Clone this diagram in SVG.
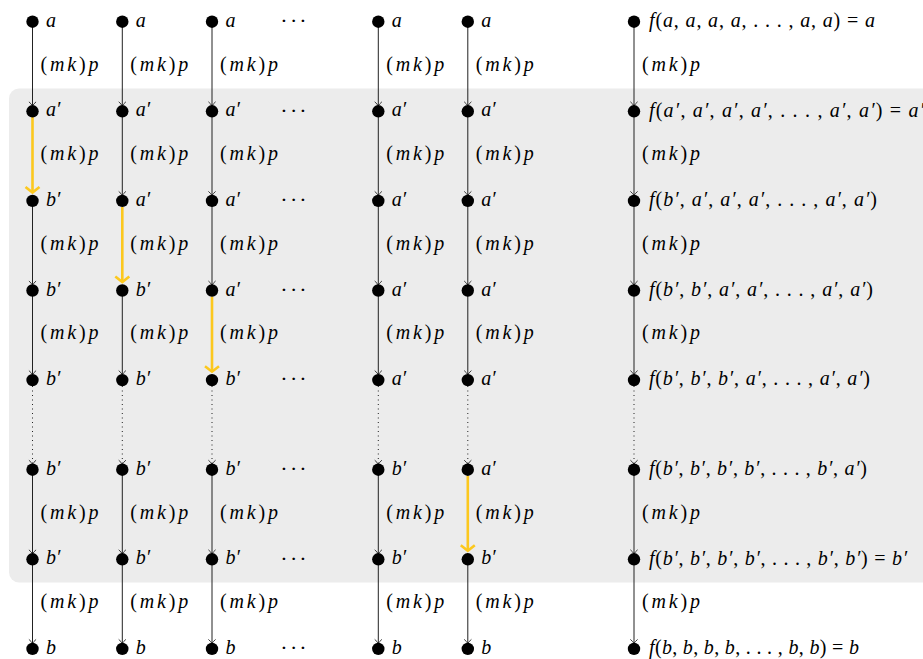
<svg xmlns="http://www.w3.org/2000/svg" width="923" height="659" viewBox="0 0 923 659" font-family="Liberation Serif, DejaVu Serif, serif">
<style>
text{font-family:"Liberation Serif",serif}
.t{font-size:20px;fill:#000}
.i{font-style:italic}
.n{fill:#000}
.ln{stroke:#222;stroke-width:1;fill:none}
.dt{stroke:#222;stroke-width:1;stroke-dasharray:1 3.5;fill:none}
.y{stroke:#fcc81e;stroke-width:2.6;fill:none}
.dots{font-size:22px;text-anchor:middle}
</style>
<defs>
<marker id="ah" markerUnits="userSpaceOnUse" viewBox="-6 -6 12 12" markerWidth="12" markerHeight="12" refX="0" refY="0" orient="auto"><path d="M-4,-3.6 Q-1.5,-0.8 0,0 Q-1.5,0.8 -4,3.6" fill="none" stroke="#222" stroke-width="0.9"/></marker>
<marker id="ahy" markerUnits="userSpaceOnUse" viewBox="-10 -10 20 20" markerWidth="20" markerHeight="20" refX="0" refY="0" orient="auto"><path d="M-5.5,-7 L0,0 L-5.5,7" fill="none" stroke="#fcc81e" stroke-width="2.6"/></marker>
</defs>
<rect x="9" y="88.5" width="940" height="494" rx="10" fill="#ececec"/>
<g id="connectors">
<line class="ln" x1="32.5" y1="21.7" x2="32.5" y2="105.8" marker-end="url(#ah)"/>
<line class="y" x1="32.5" y1="117" x2="32.5" y2="192.5" marker-end="url(#ahy)"/>
<line class="ln" x1="32.5" y1="200.9" x2="32.5" y2="285" marker-end="url(#ah)"/>
<line class="ln" x1="32.5" y1="290.5" x2="32.5" y2="374.6" marker-end="url(#ah)"/>
<line class="dt" x1="32.5" y1="386" x2="32.5" y2="464.2" marker-end="url(#ah)"/>
<line class="ln" x1="32.5" y1="469.7" x2="32.5" y2="553.8" marker-end="url(#ah)"/>
<line class="ln" x1="32.5" y1="559.3" x2="32.5" y2="643.4" marker-end="url(#ah)"/>
<line class="ln" x1="122.3" y1="21.7" x2="122.3" y2="105.8" marker-end="url(#ah)"/>
<line class="ln" x1="122.3" y1="111.3" x2="122.3" y2="195.4" marker-end="url(#ah)"/>
<line class="y" x1="122.3" y1="207" x2="122.3" y2="282.1" marker-end="url(#ahy)"/>
<line class="ln" x1="122.3" y1="290.5" x2="122.3" y2="374.6" marker-end="url(#ah)"/>
<line class="dt" x1="122.3" y1="386" x2="122.3" y2="464.2" marker-end="url(#ah)"/>
<line class="ln" x1="122.3" y1="469.7" x2="122.3" y2="553.8" marker-end="url(#ah)"/>
<line class="ln" x1="122.3" y1="559.3" x2="122.3" y2="643.4" marker-end="url(#ah)"/>
<line class="ln" x1="212" y1="21.7" x2="212" y2="105.8" marker-end="url(#ah)"/>
<line class="ln" x1="212" y1="111.3" x2="212" y2="195.4" marker-end="url(#ah)"/>
<line class="ln" x1="212" y1="200.9" x2="212" y2="285" marker-end="url(#ah)"/>
<line class="y" x1="212" y1="296.5" x2="212" y2="371.7" marker-end="url(#ahy)"/>
<line class="dt" x1="212" y1="386" x2="212" y2="464.2" marker-end="url(#ah)"/>
<line class="ln" x1="212" y1="469.7" x2="212" y2="553.8" marker-end="url(#ah)"/>
<line class="ln" x1="212" y1="559.3" x2="212" y2="643.4" marker-end="url(#ah)"/>
<line class="ln" x1="378.3" y1="21.7" x2="378.3" y2="105.8" marker-end="url(#ah)"/>
<line class="ln" x1="378.3" y1="111.3" x2="378.3" y2="195.4" marker-end="url(#ah)"/>
<line class="ln" x1="378.3" y1="200.9" x2="378.3" y2="285" marker-end="url(#ah)"/>
<line class="ln" x1="378.3" y1="290.5" x2="378.3" y2="374.6" marker-end="url(#ah)"/>
<line class="dt" x1="378.3" y1="386" x2="378.3" y2="464.2" marker-end="url(#ah)"/>
<line class="ln" x1="378.3" y1="469.7" x2="378.3" y2="553.8" marker-end="url(#ah)"/>
<line class="ln" x1="378.3" y1="559.3" x2="378.3" y2="643.4" marker-end="url(#ah)"/>
<line class="ln" x1="467.8" y1="21.7" x2="467.8" y2="105.8" marker-end="url(#ah)"/>
<line class="ln" x1="467.8" y1="111.3" x2="467.8" y2="195.4" marker-end="url(#ah)"/>
<line class="ln" x1="467.8" y1="200.9" x2="467.8" y2="285" marker-end="url(#ah)"/>
<line class="ln" x1="467.8" y1="290.5" x2="467.8" y2="374.6" marker-end="url(#ah)"/>
<line class="dt" x1="467.8" y1="386" x2="467.8" y2="464.2" marker-end="url(#ah)"/>
<line class="y" x1="467.8" y1="475.7" x2="467.8" y2="550.8" marker-end="url(#ahy)"/>
<line class="ln" x1="467.8" y1="559.3" x2="467.8" y2="643.4" marker-end="url(#ah)"/>
<line class="ln" x1="634" y1="21.7" x2="634" y2="105.8" marker-end="url(#ah)"/>
<line class="ln" x1="634" y1="111.3" x2="634" y2="195.4" marker-end="url(#ah)"/>
<line class="ln" x1="634" y1="200.9" x2="634" y2="285" marker-end="url(#ah)"/>
<line class="ln" x1="634" y1="290.5" x2="634" y2="374.6" marker-end="url(#ah)"/>
<line class="dt" x1="634" y1="386" x2="634" y2="464.2" marker-end="url(#ah)"/>
<line class="ln" x1="634" y1="469.7" x2="634" y2="553.8" marker-end="url(#ah)"/>
<line class="ln" x1="634" y1="559.3" x2="634" y2="643.4" marker-end="url(#ah)"/>
</g>
<g id="edge-labels" class="t">
<text x="40.5" y="70.5" textLength="58" lengthAdjust="spacing">(<tspan class="i">mk</tspan>)<tspan class="i">p</tspan></text>
<text x="40.5" y="160.1" textLength="58" lengthAdjust="spacing">(<tspan class="i">mk</tspan>)<tspan class="i">p</tspan></text>
<text x="40.5" y="249.7" textLength="58" lengthAdjust="spacing">(<tspan class="i">mk</tspan>)<tspan class="i">p</tspan></text>
<text x="40.5" y="339.3" textLength="58" lengthAdjust="spacing">(<tspan class="i">mk</tspan>)<tspan class="i">p</tspan></text>
<text x="40.5" y="518.5" textLength="58" lengthAdjust="spacing">(<tspan class="i">mk</tspan>)<tspan class="i">p</tspan></text>
<text x="40.5" y="608.1" textLength="58" lengthAdjust="spacing">(<tspan class="i">mk</tspan>)<tspan class="i">p</tspan></text>
<text x="130.3" y="70.5" textLength="58" lengthAdjust="spacing">(<tspan class="i">mk</tspan>)<tspan class="i">p</tspan></text>
<text x="130.3" y="160.1" textLength="58" lengthAdjust="spacing">(<tspan class="i">mk</tspan>)<tspan class="i">p</tspan></text>
<text x="130.3" y="249.7" textLength="58" lengthAdjust="spacing">(<tspan class="i">mk</tspan>)<tspan class="i">p</tspan></text>
<text x="130.3" y="339.3" textLength="58" lengthAdjust="spacing">(<tspan class="i">mk</tspan>)<tspan class="i">p</tspan></text>
<text x="130.3" y="518.5" textLength="58" lengthAdjust="spacing">(<tspan class="i">mk</tspan>)<tspan class="i">p</tspan></text>
<text x="130.3" y="608.1" textLength="58" lengthAdjust="spacing">(<tspan class="i">mk</tspan>)<tspan class="i">p</tspan></text>
<text x="220" y="70.5" textLength="58" lengthAdjust="spacing">(<tspan class="i">mk</tspan>)<tspan class="i">p</tspan></text>
<text x="220" y="160.1" textLength="58" lengthAdjust="spacing">(<tspan class="i">mk</tspan>)<tspan class="i">p</tspan></text>
<text x="220" y="249.7" textLength="58" lengthAdjust="spacing">(<tspan class="i">mk</tspan>)<tspan class="i">p</tspan></text>
<text x="220" y="339.3" textLength="58" lengthAdjust="spacing">(<tspan class="i">mk</tspan>)<tspan class="i">p</tspan></text>
<text x="220" y="518.5" textLength="58" lengthAdjust="spacing">(<tspan class="i">mk</tspan>)<tspan class="i">p</tspan></text>
<text x="220" y="608.1" textLength="58" lengthAdjust="spacing">(<tspan class="i">mk</tspan>)<tspan class="i">p</tspan></text>
<text x="386.3" y="70.5" textLength="58" lengthAdjust="spacing">(<tspan class="i">mk</tspan>)<tspan class="i">p</tspan></text>
<text x="386.3" y="160.1" textLength="58" lengthAdjust="spacing">(<tspan class="i">mk</tspan>)<tspan class="i">p</tspan></text>
<text x="386.3" y="249.7" textLength="58" lengthAdjust="spacing">(<tspan class="i">mk</tspan>)<tspan class="i">p</tspan></text>
<text x="386.3" y="339.3" textLength="58" lengthAdjust="spacing">(<tspan class="i">mk</tspan>)<tspan class="i">p</tspan></text>
<text x="386.3" y="518.5" textLength="58" lengthAdjust="spacing">(<tspan class="i">mk</tspan>)<tspan class="i">p</tspan></text>
<text x="386.3" y="608.1" textLength="58" lengthAdjust="spacing">(<tspan class="i">mk</tspan>)<tspan class="i">p</tspan></text>
<text x="475.8" y="70.5" textLength="58" lengthAdjust="spacing">(<tspan class="i">mk</tspan>)<tspan class="i">p</tspan></text>
<text x="475.8" y="160.1" textLength="58" lengthAdjust="spacing">(<tspan class="i">mk</tspan>)<tspan class="i">p</tspan></text>
<text x="475.8" y="249.7" textLength="58" lengthAdjust="spacing">(<tspan class="i">mk</tspan>)<tspan class="i">p</tspan></text>
<text x="475.8" y="339.3" textLength="58" lengthAdjust="spacing">(<tspan class="i">mk</tspan>)<tspan class="i">p</tspan></text>
<text x="475.8" y="518.5" textLength="58" lengthAdjust="spacing">(<tspan class="i">mk</tspan>)<tspan class="i">p</tspan></text>
<text x="475.8" y="608.1" textLength="58" lengthAdjust="spacing">(<tspan class="i">mk</tspan>)<tspan class="i">p</tspan></text>
<text x="642" y="70.5" textLength="58" lengthAdjust="spacing">(<tspan class="i">mk</tspan>)<tspan class="i">p</tspan></text>
<text x="642" y="160.1" textLength="58" lengthAdjust="spacing">(<tspan class="i">mk</tspan>)<tspan class="i">p</tspan></text>
<text x="642" y="249.7" textLength="58" lengthAdjust="spacing">(<tspan class="i">mk</tspan>)<tspan class="i">p</tspan></text>
<text x="642" y="339.3" textLength="58" lengthAdjust="spacing">(<tspan class="i">mk</tspan>)<tspan class="i">p</tspan></text>
<text x="642" y="518.5" textLength="58" lengthAdjust="spacing">(<tspan class="i">mk</tspan>)<tspan class="i">p</tspan></text>
<text x="642" y="608.1" textLength="58" lengthAdjust="spacing">(<tspan class="i">mk</tspan>)<tspan class="i">p</tspan></text>
</g>
<g id="ellipses" class="dots">
<text y="27.9" x="284 293.7 303">···</text>
<text y="117.5" x="284 293.7 303">···</text>
<text y="207.1" x="284 293.7 303">···</text>
<text y="296.7" x="284 293.7 303">···</text>
<text y="386.3" x="284 293.7 303">···</text>
<text y="475.9" x="284 293.7 303">···</text>
<text y="565.5" x="284 293.7 303">···</text>
<text y="655.1" x="284 293.7 303">···</text>
</g>
<g class="t">
<g id="n1-0"><circle class="n" cx="32.5" cy="21.7" r="6.2"/><text x="46" y="26.7" class="i">a</text></g>
<g id="n1-1"><circle class="n" cx="32.5" cy="111.3" r="6.2"/><text x="46" y="116.3" class="i">a′</text></g>
<g id="n1-2"><circle class="n" cx="32.5" cy="200.9" r="6.2"/><text x="46" y="205.9" class="i">b′</text></g>
<g id="n1-3"><circle class="n" cx="32.5" cy="290.5" r="6.2"/><text x="46" y="295.5" class="i">b′</text></g>
<g id="n1-4"><circle class="n" cx="32.5" cy="380.1" r="6.2"/><text x="46" y="385.1" class="i">b′</text></g>
<g id="n1-5"><circle class="n" cx="32.5" cy="469.7" r="6.2"/><text x="46" y="474.7" class="i">b′</text></g>
<g id="n1-6"><circle class="n" cx="32.5" cy="559.3" r="6.2"/><text x="46" y="564.3" class="i">b′</text></g>
<g id="n1-7"><circle class="n" cx="32.5" cy="648.9" r="6.2"/><text x="46" y="653.9" class="i">b</text></g>
<g id="n2-0"><circle class="n" cx="122.3" cy="21.7" r="6.2"/><text x="135.8" y="26.7" class="i">a</text></g>
<g id="n2-1"><circle class="n" cx="122.3" cy="111.3" r="6.2"/><text x="135.8" y="116.3" class="i">a′</text></g>
<g id="n2-2"><circle class="n" cx="122.3" cy="200.9" r="6.2"/><text x="135.8" y="205.9" class="i">a′</text></g>
<g id="n2-3"><circle class="n" cx="122.3" cy="290.5" r="6.2"/><text x="135.8" y="295.5" class="i">b′</text></g>
<g id="n2-4"><circle class="n" cx="122.3" cy="380.1" r="6.2"/><text x="135.8" y="385.1" class="i">b′</text></g>
<g id="n2-5"><circle class="n" cx="122.3" cy="469.7" r="6.2"/><text x="135.8" y="474.7" class="i">b′</text></g>
<g id="n2-6"><circle class="n" cx="122.3" cy="559.3" r="6.2"/><text x="135.8" y="564.3" class="i">b′</text></g>
<g id="n2-7"><circle class="n" cx="122.3" cy="648.9" r="6.2"/><text x="135.8" y="653.9" class="i">b</text></g>
<g id="n3-0"><circle class="n" cx="212" cy="21.7" r="6.2"/><text x="225.5" y="26.7" class="i">a</text></g>
<g id="n3-1"><circle class="n" cx="212" cy="111.3" r="6.2"/><text x="225.5" y="116.3" class="i">a′</text></g>
<g id="n3-2"><circle class="n" cx="212" cy="200.9" r="6.2"/><text x="225.5" y="205.9" class="i">a′</text></g>
<g id="n3-3"><circle class="n" cx="212" cy="290.5" r="6.2"/><text x="225.5" y="295.5" class="i">a′</text></g>
<g id="n3-4"><circle class="n" cx="212" cy="380.1" r="6.2"/><text x="225.5" y="385.1" class="i">b′</text></g>
<g id="n3-5"><circle class="n" cx="212" cy="469.7" r="6.2"/><text x="225.5" y="474.7" class="i">b′</text></g>
<g id="n3-6"><circle class="n" cx="212" cy="559.3" r="6.2"/><text x="225.5" y="564.3" class="i">b′</text></g>
<g id="n3-7"><circle class="n" cx="212" cy="648.9" r="6.2"/><text x="225.5" y="653.9" class="i">b</text></g>
<g id="n4-0"><circle class="n" cx="378.3" cy="21.7" r="6.2"/><text x="391.8" y="26.7" class="i">a</text></g>
<g id="n4-1"><circle class="n" cx="378.3" cy="111.3" r="6.2"/><text x="391.8" y="116.3" class="i">a′</text></g>
<g id="n4-2"><circle class="n" cx="378.3" cy="200.9" r="6.2"/><text x="391.8" y="205.9" class="i">a′</text></g>
<g id="n4-3"><circle class="n" cx="378.3" cy="290.5" r="6.2"/><text x="391.8" y="295.5" class="i">a′</text></g>
<g id="n4-4"><circle class="n" cx="378.3" cy="380.1" r="6.2"/><text x="391.8" y="385.1" class="i">a′</text></g>
<g id="n4-5"><circle class="n" cx="378.3" cy="469.7" r="6.2"/><text x="391.8" y="474.7" class="i">b′</text></g>
<g id="n4-6"><circle class="n" cx="378.3" cy="559.3" r="6.2"/><text x="391.8" y="564.3" class="i">b′</text></g>
<g id="n4-7"><circle class="n" cx="378.3" cy="648.9" r="6.2"/><text x="391.8" y="653.9" class="i">b</text></g>
<g id="n5-0"><circle class="n" cx="467.8" cy="21.7" r="6.2"/><text x="481.3" y="26.7" class="i">a</text></g>
<g id="n5-1"><circle class="n" cx="467.8" cy="111.3" r="6.2"/><text x="481.3" y="116.3" class="i">a′</text></g>
<g id="n5-2"><circle class="n" cx="467.8" cy="200.9" r="6.2"/><text x="481.3" y="205.9" class="i">a′</text></g>
<g id="n5-3"><circle class="n" cx="467.8" cy="290.5" r="6.2"/><text x="481.3" y="295.5" class="i">a′</text></g>
<g id="n5-4"><circle class="n" cx="467.8" cy="380.1" r="6.2"/><text x="481.3" y="385.1" class="i">a′</text></g>
<g id="n5-5"><circle class="n" cx="467.8" cy="469.7" r="6.2"/><text x="481.3" y="474.7" class="i">a′</text></g>
<g id="n5-6"><circle class="n" cx="467.8" cy="559.3" r="6.2"/><text x="481.3" y="564.3" class="i">b′</text></g>
<g id="n5-7"><circle class="n" cx="467.8" cy="648.9" r="6.2"/><text x="481.3" y="653.9" class="i">b</text></g>
<g id="n6-0"><circle class="n" cx="634" cy="21.7" r="6.2"/><text x="649" y="27" textLength="226" lengthAdjust="spacing"><tspan class="i">f</tspan>(<tspan class="i">a</tspan>, <tspan class="i">a</tspan>, <tspan class="i">a</tspan>, <tspan class="i">a</tspan>, . . . , <tspan class="i">a</tspan>, <tspan class="i">a</tspan>) = <tspan class="i">a</tspan></text></g>
<g id="n6-1"><circle class="n" cx="634" cy="111.3" r="6.2"/><text x="649" y="116.6" textLength="275" lengthAdjust="spacing"><tspan class="i">f</tspan>(<tspan class="i">a′</tspan>, <tspan class="i">a′</tspan>, <tspan class="i">a′</tspan>, <tspan class="i">a′</tspan>, . . . , <tspan class="i">a′</tspan>, <tspan class="i">a′</tspan>) = <tspan class="i">a′</tspan></text></g>
<g id="n6-2"><circle class="n" cx="634" cy="200.9" r="6.2"/><text x="649" y="206.2" textLength="228" lengthAdjust="spacing"><tspan class="i">f</tspan>(<tspan class="i">b′</tspan>, <tspan class="i">a′</tspan>, <tspan class="i">a′</tspan>, <tspan class="i">a′</tspan>, . . . , <tspan class="i">a′</tspan>, <tspan class="i">a′</tspan>)</text></g>
<g id="n6-3"><circle class="n" cx="634" cy="290.5" r="6.2"/><text x="649" y="295.8" textLength="224" lengthAdjust="spacing"><tspan class="i">f</tspan>(<tspan class="i">b′</tspan>, <tspan class="i">b′</tspan>, <tspan class="i">a′</tspan>, <tspan class="i">a′</tspan>, . . . , <tspan class="i">a′</tspan>, <tspan class="i">a′</tspan>)</text></g>
<g id="n6-4"><circle class="n" cx="634" cy="380.1" r="6.2"/><text x="649" y="385.4" textLength="221" lengthAdjust="spacing"><tspan class="i">f</tspan>(<tspan class="i">b′</tspan>, <tspan class="i">b′</tspan>, <tspan class="i">b′</tspan>, <tspan class="i">a′</tspan>, . . . , <tspan class="i">a′</tspan>, <tspan class="i">a′</tspan>)</text></g>
<g id="n6-5"><circle class="n" cx="634" cy="469.7" r="6.2"/><text x="649" y="475" textLength="218" lengthAdjust="spacing"><tspan class="i">f</tspan>(<tspan class="i">b′</tspan>, <tspan class="i">b′</tspan>, <tspan class="i">b′</tspan>, <tspan class="i">b′</tspan>, . . . , <tspan class="i">b′</tspan>, <tspan class="i">a′</tspan>)</text></g>
<g id="n6-6"><circle class="n" cx="634" cy="559.3" r="6.2"/><text x="649" y="564.6" textLength="258" lengthAdjust="spacing"><tspan class="i">f</tspan>(<tspan class="i">b′</tspan>, <tspan class="i">b′</tspan>, <tspan class="i">b′</tspan>, <tspan class="i">b′</tspan>, . . . , <tspan class="i">b′</tspan>, <tspan class="i">b′</tspan>) = <tspan class="i">b′</tspan></text></g>
<g id="n6-7"><circle class="n" cx="634" cy="648.9" r="6.2"/><text x="649" y="654.2" textLength="210" lengthAdjust="spacing"><tspan class="i">f</tspan>(<tspan class="i">b</tspan>, <tspan class="i">b</tspan>, <tspan class="i">b</tspan>, <tspan class="i">b</tspan>, . . . , <tspan class="i">b</tspan>, <tspan class="i">b</tspan>) = <tspan class="i">b</tspan></text></g>
</g>
</svg>
